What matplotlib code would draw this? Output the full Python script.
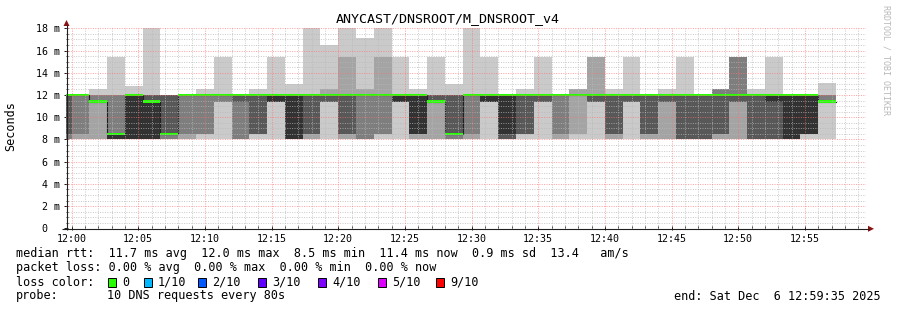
import numpy as np
import matplotlib
matplotlib.use("Agg")
import matplotlib.pyplot as plt
from matplotlib.patches import Polygon, Rectangle

# ---------------- data (ms), one value per 80 s sample, sorted pings ----------------
sample_step_s = 80
first_sample_s = -80          # seconds relative to 12:00:00
view_start_s = -25            # 11:59:35
view_end_s = 3575             # 12:59:35

ping1 = [8.0] * 44
ping2 = [8, 8, 8, 8, 8, 8, 8, 8, 8.5, 11.4, 8, 8.5, 11.4, 8, 8, 11.4, 8, 8, 8.5, 11.4, 8, 8,
         8, 8, 11.4, 8, 8.5, 11.4, 8, 8.5, 11.4, 8, 11.4, 8, 8, 8, 8, 8, 8, 8, 8, 8, 8.5, 11.4]
ping3 = [8, 8.5, 11.4, 8, 8, 8, 8, 8.5, 8.5, 11.4, 8, 8.5, 11.4, 8, 8.5, 11.4, 8.5, 8, 8.5, 11.4, 8.5, 11.4,
         8, 8.5, 11.4, 8, 8.5, 11.4, 8.5, 12, 11.4, 8.5, 11.4, 8.5, 11.4, 8, 8, 8.5, 11.4, 8, 8, 8, 8.5, 11.4]
ping4 = [8.5, 12, 11.4, 8, 8, 8, 8.5, 12, 12, 12, 11.4, 8.5, 11.4, 8, 8.5, 11.4, 8.5, 12, 12, 11.4, 8.5, 11.4,
         8.5, 12, 11.4, 8, 8.5, 11.4, 12, 12, 11.4, 8.5, 11.4, 8.5, 11.4, 8, 8, 8.5, 11.4, 8, 8, 8, 8.5, 11.4]
ping5 = [12, 12, 11.4, 8, 8, 8, 8.5, 12, 12, 12, 12, 12, 11.4, 8, 12, 12, 12, 12, 12, 11.4, 8.5, 11.4,
         8.5, 12, 11.4, 8.5, 12, 12, 12, 12, 12, 12, 12, 12, 12, 12, 12, 12, 12, 12, 11.4, 8, 8.5, 11.4]
ping6 = [12, 12, 11.4, 8.5, 12, 11.4, 8.5, 12, 12, 12, 12, 12, 12, 12, 12, 12, 12, 12, 12, 12, 12, 11.4,
         8.5, 12, 12, 12, 12, 12, 12, 12, 12, 12, 12, 12, 12, 12, 12, 12, 12, 12, 12, 12, 12, 11.4]
ping7 = [12, 12, 11.4, 8.5, 12, 12, 12, 12, 12, 12, 12, 12, 12, 12, 12, 12, 12, 12, 12, 12, 12, 12,
         12, 12, 12, 12, 12, 12, 12, 12, 12, 12, 12, 12, 12, 12, 12, 12, 12, 12, 12, 12, 12, 11.4]
ping8 = [12, 12, 12, 12, 12, 12, 12, 12, 12, 12, 12, 12, 12, 12, 12, 12, 12, 12, 12, 12, 12, 12,
         12, 12, 12, 12, 12, 12, 12, 12, 12, 12, 12, 12, 12, 12, 12, 12.5, 15.4, 12, 12, 12, 12, 12]
ping9 = [12, 12, 12, 12, 12, 12, 12, 12, 12, 12, 12, 12, 12, 12, 12, 12.5, 15.4, 12.5, 15.4, 12, 12, 12,
         12, 12, 12, 12, 12, 12, 12, 12.5, 15.4, 12, 12, 12, 12, 12, 12, 12.5, 15.4, 12, 12, 12, 12, 12]
ping10 = [12, 12, 12.5, 15.4, 12.8, 18, 12, 12, 12.5, 15.4, 12, 12.5, 15.4, 13.0, 18, 16.5, 18, 17.1, 18, 15.4, 12.5, 15.4,
          13.0, 18, 15.4, 12, 12.5, 15.4, 12, 12.5, 15.4, 12.5, 15.4, 12, 12.5, 15.4, 12, 12.5, 15.4, 12.5, 15.4, 12, 12, 13.1]
median = [12, 12, 11.4, 8.5, 12, 11.4, 8.5, 12, 12, 12, 12, 12, 12, 12, 12, 12, 12, 12, 12, 12, 12, 11.4,
          8.5, 12, 12, 12, 12, 12, 12, 12, 12, 12, 12, 12, 12, 12, 12, 12, 12, 12, 12, 12, 12, 11.4]
loss = [0] * 44

x_tick_minutes = [0, 5, 10, 15, 20, 25, 30, 35, 40, 45, 50, 55]
x_tick_labels = ["12:00", "12:05", "12:10", "12:15", "12:20", "12:25",
                 "12:30", "12:35", "12:40", "12:45", "12:50", "12:55"]
y_ticks = [0, 2, 4, 6, 8, 10, 12, 14, 16, 18]
y_tick_labels = ["0  ", "2 m", "4 m", "6 m", "8 m", "10 m", "12 m", "14 m", "16 m", "18 m"]

title = "ANYCAST/DNSROOT/M_DNSROOT_v4"
legend_line1 = "median rtt:  11.7 ms avg  12.0 ms max  8.5 ms min  11.4 ms now  0.9 ms sd  13.4   am/s"
legend_line2 = "packet loss: 0.00 % avg  0.00 % max  0.00 % min  0.00 % now"
loss_labels = ["0", "1/10", "2/10", "3/10", "4/10", "5/10", "9/10"]
loss_colors = ["#26ff00", "#00b8ff", "#0059ff", "#5e00ff", "#7e00ff", "#dd00ff", "#ff0000"]
probe_text = "10 DNS requests every 80s"
end_text = "end: Sat Dec  6 12:59:35 2025"

# ---------------- figure ----------------
W, H = 897, 310
fig = plt.figure(figsize=(W / 100, H / 100), dpi=100)
fig.patch.set_facecolor("white")
MONO = "DejaVu Sans Mono"

L, R, T, B = 66, 866, 28.3, 228.3
ax = fig.add_axes([L / W, (H - B) / H, (R - L) / W, (B - T) / H])
ax.set_facecolor("white")
ax.set_xlim(view_start_s / 60, view_end_s / 60)
ax.set_ylim(0, 18)
for s in ax.spines.values():
    s.set_visible(False)

n = len(median)
starts = (first_sample_s + sample_step_s * np.arange(n)) / 60.0
edges = np.append(starts, starts[-1] + sample_step_s / 60.0)
P = np.array([ping1, ping2, ping3, ping4, ping5, ping6, ping7, ping8, ping9, ping10], dtype=float)
greys = ["#cacaca", "#a4a4a4", "#7e7e7e", "#585858", "#323232"]
for i in range(5):
    lo = P[i]
    hi = P[9 - i]
    ax.fill_between(edges, np.append(lo, lo[-1]), np.append(hi, hi[-1]), step="post",
                    color=greys[i], linewidth=0, antialiased=False, zorder=2)

med = np.array(median, dtype=float)
med_e = np.append(med, med[-1])
ax.step(edges, med_e, where="post", color="#202020", lw=0.8, zorder=3)
px_ms = 18.0 / 200.0
ax.fill_between(edges, med_e - 1.15 * px_ms, med_e + 1.15 * px_ms, step="post",
                color=loss_colors[0], linewidth=0, antialiased=False, zorder=4)

# grid (drawn on top, like rrdtool)
dash = (0, (1, 1.4))
for m in range(0, 60):
    if m % 5 == 0:
        continue
    ax.axvline(m, color="#b8b8b8", alpha=0.72, lw=0.72, ls=dash, zorder=5)
for v in np.arange(0.5, 18.01, 0.5):
    if abs(v / 2 - round(v / 2)) < 1e-6:
        continue
    ax.axhline(v, color="#b8b8b8", alpha=0.72, lw=0.72, ls=dash, zorder=5)
for m in x_tick_minutes:
    ax.axvline(m, color="#ff7070", alpha=0.65, lw=0.72, ls=dash, zorder=6)
for v in y_ticks[1:]:
    ax.axhline(v, color="#ff7070", alpha=0.65, lw=0.72, ls=dash, zorder=6)

ax.set_xticks(x_tick_minutes)
ax.set_xticklabels(x_tick_labels, family=MONO, fontsize=7.2)
ax.set_xticks(range(0, 60), minor=True)
ax.set_yticks(y_ticks)
ax.set_yticklabels(y_tick_labels, family=MONO, fontsize=7.2)
ax.set_yticks(np.arange(0, 18.01, 0.5), minor=True)
ax.tick_params(axis="x", which="major", length=2.2, width=0.72, direction="inout", pad=3, colors="#202020")
ax.tick_params(axis="x", which="minor", length=1.4, width=0.72, direction="in", colors="#202020")
ax.tick_params(axis="y", which="major", length=2.2, width=0.72, direction="inout", pad=3, colors="#202020")
ax.tick_params(axis="y", which="minor", length=1.4, width=0.72, direction="in", colors="#202020")
for lab in ax.get_xticklabels() + ax.get_yticklabels():
    lab.set_color("black")

# ---------------- overlay in pixel coordinates ----------------
ov = fig.add_axes([0, 0, 1, 1])
ov.set_xlim(0, W)
ov.set_ylim(H, 0)
ov.axis("off")
ov.patch.set_alpha(0)

axis_col = "#202020"
arrow_col = "#8b1010"
ov.plot([L + 0.5, L + 0.5], [B + 2, 25], color=axis_col, lw=0.8, solid_capstyle="butt")
ov.plot([62, 869], [B + 0.5, B + 0.5], color=axis_col, lw=0.8, solid_capstyle="butt")
ov.add_patch(Polygon([[L + 0.5 - 3, 26], [L + 0.5 + 3, 26], [L + 0.5, 20]], closed=True,
                     facecolor=arrow_col, edgecolor="none"))
ov.add_patch(Polygon([[868, B + 0.5 - 3], [868, B + 0.5 + 3], [874, B + 0.5]], closed=True,
                     facecolor=arrow_col, edgecolor="none"))

ov.text(448, 19, title, family=MONO, fontsize=9.6, ha="center", va="center", color="black")
ov.text(11, 126, "Seconds", family=MONO, fontsize=8.5, rotation=90, ha="center", va="center")
ov.text(886, 60, "RRDTOOL / TOBI OETIKER", family=MONO, fontsize=6.0, rotation=-90,
        ha="center", va="center", color="#b8b8b8")

fs = 8.5
ov.text(16, 254, legend_line1, family=MONO, fontsize=fs, ha="left", va="center")
ov.text(16, 268, legend_line2, family=MONO, fontsize=fs, ha="left", va="center")
ov.text(16, 282, "loss color:", family=MONO, fontsize=fs, ha="left", va="center")
box_x = [108, 144, 198, 258, 318, 378, 436]
for bx, lab, colr in zip(box_x, loss_labels, loss_colors):
    ov.add_patch(Rectangle((bx, 277.5), 8, 9, facecolor=colr, edgecolor="black", lw=0.7))
    ov.text(bx + 14, 282, lab, family=MONO, fontsize=fs, ha="left", va="center")
ov.text(16, 296, "probe:", family=MONO, fontsize=fs, ha="left", va="center")
ov.text(107, 296, probe_text, family=MONO, fontsize=fs, ha="left", va="center")
ov.text(881, 296, end_text, family=MONO, fontsize=fs, ha="right", va="center")

fig.savefig("out.png", dpi=100, facecolor="white")
